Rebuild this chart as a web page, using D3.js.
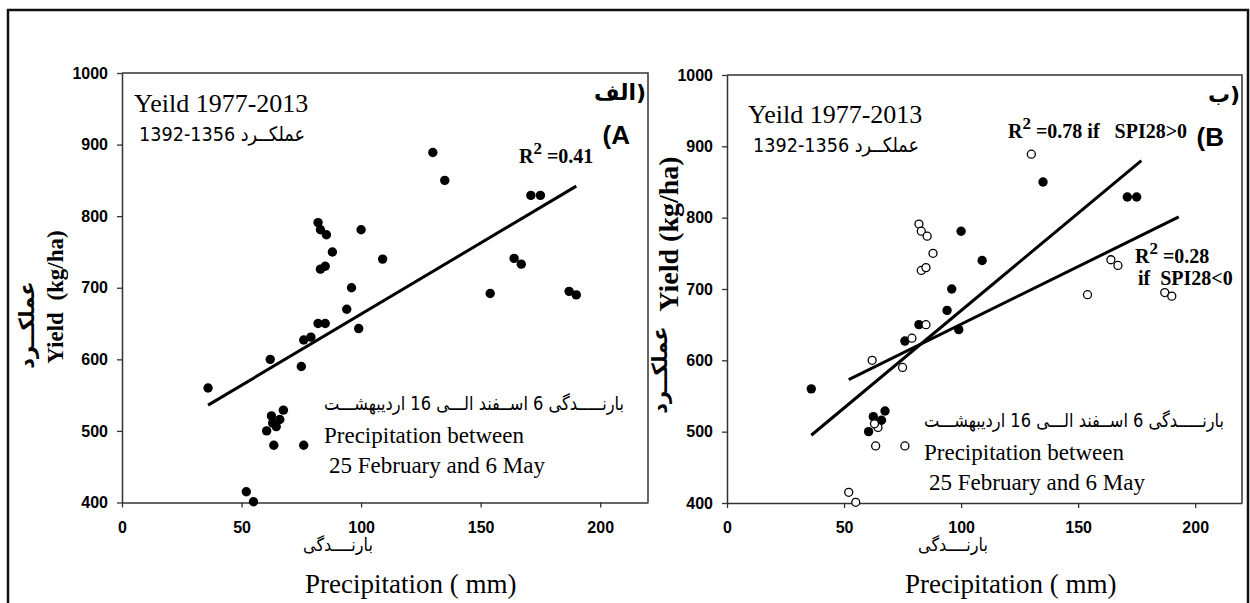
<!DOCTYPE html>
<html>
<head>
<meta charset="utf-8">
<script src="https://cdn.jsdelivr.net/npm/d3@7"></script>
<style>
  body { margin: 0; background: #fff; }
  svg { display: block; }
</style>
</head>
<body>
<script>
// yield vs. spring precipitation, 1977-2013 (37 seasons)
const precip = [36, 62, 75, 76, 79, 82, 85, 82, 83, 85.5, 88, 83, 85, 94, 96, 99, 100, 109,
  130, 135, 171, 175, 164, 167, 154, 187, 190, 67.5, 62.5, 66, 60.5, 64.5, 63, 63.5, 76, 52, 55];
const yieldKg = [560, 600, 590, 627, 631, 650, 650, 791, 781, 774, 750, 726, 730, 670, 700, 643, 781, 740,
  889, 850, 829, 829, 741, 733, 692, 695, 690, 529, 521, 516, 500, 506, 511, 480, 480, 415, 401];
// 1 = SPI28 > 0 (filled), 0 = SPI28 < 0 (open)
const spiPos = [1, 0, 0, 1, 0, 1, 0, 0, 0, 0, 0, 0, 0, 1, 1, 1, 1, 1,
  0, 1, 1, 1, 0, 0, 0, 0, 0, 1, 1, 1, 1, 0, 0, 0, 0, 0, 0];

const xTicks = [0, 50, 100, 150, 200];
const yTicks = [400, 500, 600, 700, 800, 900, 1000];

// fitted lines (endpoints)
const fitAll = [[36, 536], [190, 842]];
const fitPos = [[36, 495], [177, 880]];
const fitNeg = [[52, 573], [193, 801]];

const points = precip.map((p, i) => ({ p, y: yieldKg[i], pos: spiPos[i] }));

const svg = d3.select('body').append('svg')
  .attr('width', 1250).attr('height', 603);

svg.append('rect').attr('width', 1250).attr('height', 603).attr('fill', '#fff');

// outer frame
svg.append('path').attr('d', 'M8,610 L8,10 L1248,10 L1248,610')
  .attr('fill', 'none').attr('stroke', '#111').attr('stroke-width', 2.5);

const serif = '"Liberation Serif", "Times New Roman", serif';
const sans = '"Liberation Sans", Arial, sans-serif';
const fa = '"DejaVu Sans", sans-serif';

function drawPanel(cfg) {
  const x = d3.scaleLinear().domain([0, 220]).range([cfg.left, cfg.right]);
  const y = d3.scaleLinear().domain([400, 1000]).range([cfg.bottom, cfg.top]);
  const g = svg.append('g');

  // box top & right
  g.append('path')
    .attr('d', `M${cfg.left},${cfg.top} L${cfg.right},${cfg.top} L${cfg.right},${cfg.bottom}`)
    .attr('fill', 'none').attr('stroke', '#333').attr('stroke-width', 1.5);

  const xAxis = g.append('g').attr('transform', `translate(0,${cfg.bottom})`)
    .call(d3.axisBottom(x).tickValues(xTicks).tickFormat(d3.format('d'))
      .tickSize(5).tickSizeOuter(0).tickPadding(14));
  const yAxis = g.append('g').attr('transform', `translate(${cfg.left},0)`)
    .call(d3.axisLeft(y).tickValues(yTicks).tickFormat(d3.format('d'))
      .tickSize(5).tickSizeOuter(0).tickPadding(9));
  [xAxis, yAxis].forEach(a => {
    a.select('.domain').attr('stroke', '#333').attr('stroke-width', 1.5);
    a.selectAll('.tick line').attr('stroke', '#333').attr('stroke-width', 1.3);
    a.selectAll('.tick text').attr('fill', '#000')
      .style('font-family', sans).style('font-weight', 'bold').style('font-size', '16px');
  });

  // fitted lines
  const line = d3.line().x(d => x(d[0])).y(d => y(d[1]));
  cfg.fits.forEach(f => {
    g.append('path').datum(f).attr('d', line)
      .attr('fill', 'none').attr('stroke', '#000').attr('stroke-width', 3);
  });

  // points
  g.selectAll('circle.pt').data(points).enter().append('circle')
    .attr('class', 'pt')
    .attr('cx', d => x(d.p)).attr('cy', d => y(d.y))
    .attr('r', d => (cfg.split && !d.pos) ? 4 : 4.7)
    .attr('fill', d => (cfg.split && !d.pos) ? '#fff' : '#000')
    .attr('stroke', '#000').attr('stroke-width', d => (cfg.split && !d.pos) ? 1.3 : 0);

  // title block
  g.append('text').attr('x', cfg.titleX).attr('y', cfg.titleY)
    .style('font-family', serif).style('font-size', '26px').text('Yeild 1977-2013');
  g.append('text').attr('x', cfg.titleX + 5).attr('y', cfg.titleY + 29)
    .attr('textLength', 166).attr('lengthAdjust', 'spacingAndGlyphs')
    .style('font-family', '"Liberation Sans Narrow", ' + fa).style('font-size', '20px')
    .text('1392-1356 عملکــرد');

  // panel letters: Persian word, then the closing bracket on its right
  g.append('text').attr('x', cfg.right - 12).attr('y', cfg.top + 27).attr('text-anchor', 'end')
    .style('font-family', fa).style('font-weight', 'bold').style('font-size', '22px')
    .text(cfg.faLetter);
  g.append('text').attr('x', cfg.right - 2).attr('y', cfg.top + 27).attr('text-anchor', 'end')
    .style('font-family', fa).style('font-weight', 'bold').style('font-size', '22px')
    .text(')');
  g.append('text').attr('x', cfg.right - 18).attr('y', cfg.top + 71).attr('text-anchor', 'end')
    .style('font-family', sans).style('font-weight', 'bold').style('font-size', '26px')
    .text(cfg.letter);

  // precipitation note
  const note = g.append('g').style('font-family', serif).style('font-size', '23px');
  note.append('text').attr('x', cfg.noteX + 150).attr('y', cfg.noteY).attr('text-anchor', 'middle')
    .attr('textLength', 300).attr('lengthAdjust', 'spacingAndGlyphs')
    .style('font-family', '"Liberation Sans Narrow", ' + fa).style('font-size', '19px')
    .text('بارنـــــدگی 6 اســفند الـــی 16 اردیبهشـــت');
  note.append('text').attr('x', cfg.noteX).attr('y', cfg.noteY + 33).text('Precipitation between');
  note.append('text').attr('x', cfg.noteX + 5).attr('y', cfg.noteY + 63).text('25 February and 6 May');

  // x-axis titles
  g.append('text').attr('x', cfg.faXLabel).attr('y', 551).attr('text-anchor', 'middle')
    .attr('textLength', 70).attr('lengthAdjust', 'spacingAndGlyphs')
    .style('font-family', fa).style('font-size', '18px').text('بارنــــدگی');
  g.append('text').attr('x', cfg.xTitle).attr('y', 593)
    .style('font-family', serif).style('font-size', '27px').text('Precipitation ( mm)');

  // y-axis titles
  g.append('text').attr('transform', `translate(${cfg.yLab[0]},${cfg.yLab[1]}) rotate(-90)`)
    .attr('text-anchor', 'middle')
    .style('font-family', serif).style('font-weight', 'bold').style('font-size', cfg.yLabSize + 'px')
    .style('white-space', 'pre').text(cfg.yText);
  g.append('text').attr('transform', `translate(${cfg.faYLab[0]},${cfg.faYLab[1]}) rotate(-90)`)
    .attr('text-anchor', 'middle')
    .style('font-family', fa).style('font-weight', 'bold').style('font-size', '21px')
    .text('عملکــرد');

  return { x, y, g };
}

function rsq(g, xPos, yPos, label) {
  const t = g.append('text').attr('x', xPos).attr('y', yPos)
    .style('font-family', serif).style('font-weight', 'bold').style('font-size', '20px')
    .style('white-space', 'pre');
  t.append('tspan').text('R');
  t.append('tspan').attr('dy', -9).style('font-size', '17px').text('2');
  t.append('tspan').attr('dy', 9).text(' ' + label);
}

const A = drawPanel({
  left: 122, right: 648, top: 73, bottom: 502.5, split: false, fits: [fitAll],
  titleX: 134, titleY: 112, faLetter: 'الف', letter: '(A', noteX: 324, noteY: 410,
  faXLabel: 338, xTitle: 305,
  yLab: [63, 297], yLabSize: 23, yText: 'Yield  (kg/ha)', faYLab: [34, 325]
});
rsq(A.g, 519, 163, '=0.41');

const B = drawPanel({
  left: 727, right: 1242, top: 75, bottom: 503, split: true, fits: [fitPos, fitNeg],
  titleX: 748, titleY: 123, faLetter: 'ب', letter: '(B', noteX: 924, noteY: 427,
  faXLabel: 953, xTitle: 905,
  yLab: [678, 234], yLabSize: 28, yText: 'Yield (kg/ha)', faYLab: [667, 370]
});
rsq(B.g, 1008, 138, '=0.78 if   SPI28>0');
rsq(B.g, 1135, 263, '=0.28');
B.g.append('text').attr('x', 1138).attr('y', 285)
  .style('font-family', serif).style('font-weight', 'bold').style('font-size', '20px')
  .style('white-space', 'pre').text('if  SPI28<0');
</script>
</body>
</html>
